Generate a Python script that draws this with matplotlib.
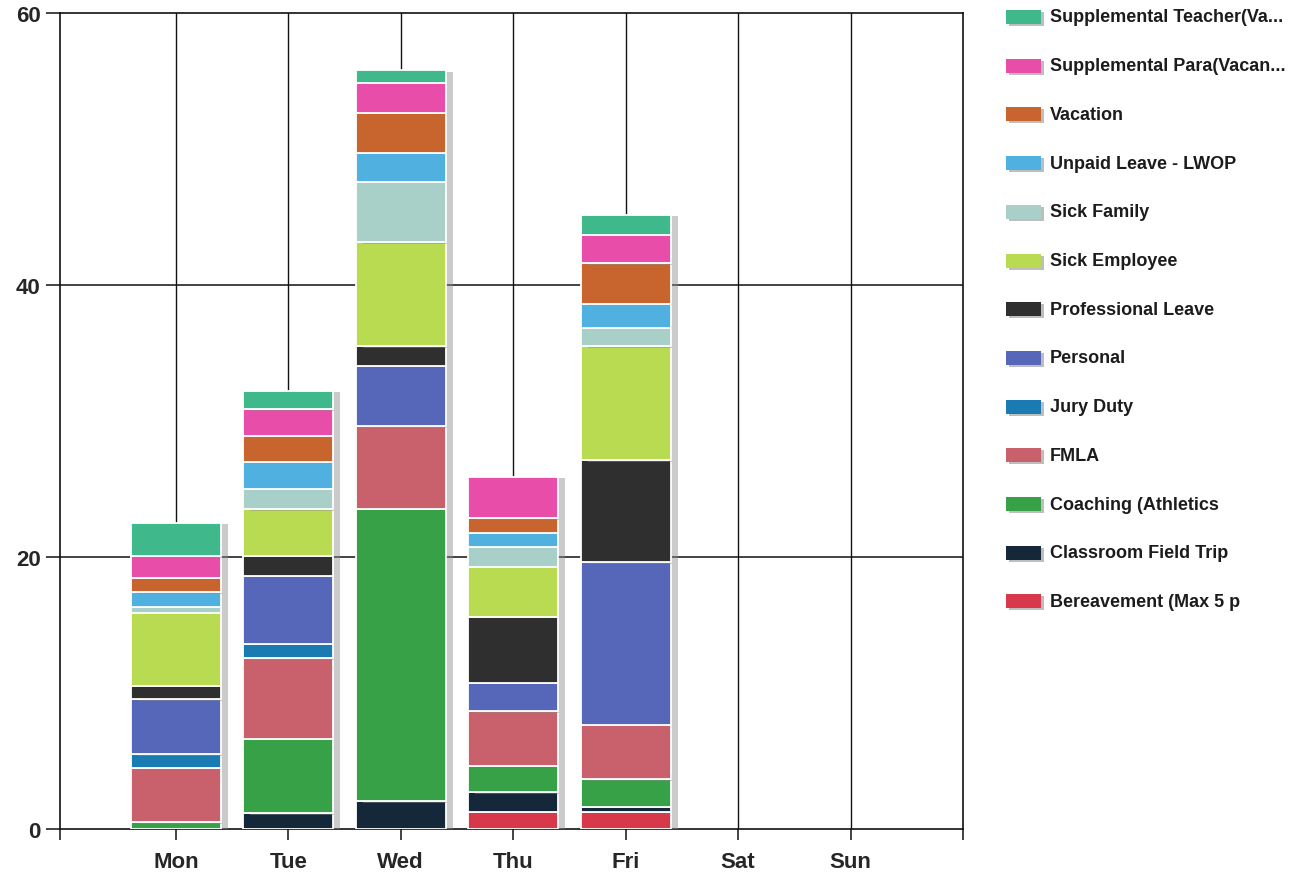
import matplotlib

matplotlib.use("Agg")
import matplotlib.pyplot as plt
import matplotlib.patheffects as pe
from matplotlib.patches import Rectangle

DAYS = ["Mon", "Tue", "Wed", "Thu", "Fri", "Sat", "Sun"]

# Absence counts per day, listed bottom-of-stack first
BEREAVEMENT = [0, 0, 0, 1.25, 1.25, 0, 0]
CLASSROOM_FIELD_TRIP = [0, 1.15, 2.05, 1.45, 0.4, 0, 0]
COACHING = [0.5, 5.5, 21.5, 1.95, 2.0, 0, 0]
FMLA = [4.0, 5.9, 6.05, 4.0, 4.0, 0, 0]
JURY_DUTY = [1.0, 1.05, 0, 0, 0, 0, 0]
PERSONAL = [4.05, 5.0, 4.45, 2.1, 11.95, 0, 0]
PROFESSIONAL_LEAVE = [1.0, 1.5, 1.45, 4.85, 7.5, 0, 0]
SICK_EMPLOYEE = [5.35, 3.4, 7.65, 3.7, 8.4, 0, 0]
SICK_FAMILY = [0.45, 1.5, 4.45, 1.45, 1.35, 0, 0]
UNPAID_LEAVE = [1.05, 2.0, 2.1, 1.05, 1.75, 0, 0]
VACATION = [1.05, 1.9, 2.95, 1.05, 3.0, 0, 0]
SUPPLEMENTAL_PARA = [1.6, 1.95, 2.2, 3.05, 2.1, 0, 0]
SUPPLEMENTAL_TEACHER = [2.45, 1.35, 0.95, 0, 1.45, 0, 0]

SERIES = [
    ("Bereavement (Max 5 p", BEREAVEMENT, "#d8394a"),
    ("Classroom Field Trip", CLASSROOM_FIELD_TRIP, "#15283a"),
    ("Coaching (Athletics", COACHING, "#36a147"),
    ("FMLA", FMLA, "#c9616d"),
    ("Jury Duty", JURY_DUTY, "#1a7bb2"),
    ("Personal", PERSONAL, "#5666b9"),
    ("Professional Leave", PROFESSIONAL_LEAVE, "#2f2f2f"),
    ("Sick Employee", SICK_EMPLOYEE, "#b9db52"),
    ("Sick Family", SICK_FAMILY, "#a9cfc9"),
    ("Unpaid Leave - LWOP", UNPAID_LEAVE, "#50b1e0"),
    ("Vacation", VACATION, "#c8652f"),
    ("Supplemental Para(Vacan...", SUPPLEMENTAL_PARA, "#e84ea9"),
    ("Supplemental Teacher(Va...", SUPPLEMENTAL_TEACHER, "#3fb98b"),
]

TEXT = "#1c1c1c"
FONT = "Liberation Sans"


def main():
    fig = plt.figure(figsize=(12.98, 8.78), dpi=100)
    W, H = 1298, 878
    ax = fig.add_axes([60 / W, 1 - 830 / H, (963 - 60) / W, (830 - 14) / H])

    x = list(range(len(DAYS)))
    shadow = [pe.SimplePatchShadow(offset=(5, -1), shadow_rgbFace="#8c8c8c", alpha=0.45), pe.Normal()]
    bottom = [0.0] * len(DAYS)
    for label, values, color in SERIES:
        # empty days get no segment at all
        keep = [i for i, v in enumerate(values) if v > 0]
        bars = ax.bar([x[i] for i in keep], [values[i] for i in keep], width=0.8,
                      bottom=[bottom[i] for i in keep], color=color,
                      edgecolor="white", linewidth=1.3, zorder=3)
        for b in bars:
            b.set_path_effects(shadow)
        bottom = [b + v for b, v in zip(bottom, values)]

    ax.set_xlim(-1.03, 7.0)
    ax.set_ylim(0, 60)

    # day gridlines and value gridlines sit behind the stacks
    for xi in x:
        ax.axvline(xi, color="#111111", linewidth=1.0, zorder=1)
    for yv in (20, 40):
        ax.axhline(yv, color="#111111", linewidth=1.1, zorder=1)

    ax.set_xticks([-1.03] + x + [7.0])
    ax.set_xticklabels([""] + DAYS + [""])
    ax.set_yticks([0, 20, 40, 60])
    ax.tick_params(axis="x", direction="out", length=8, width=1.1, pad=8, color="#111111")
    ax.tick_params(axis="y", direction="out", length=10, width=1.1, pad=4, color="#111111")
    for lbl in ax.get_xticklabels() + ax.get_yticklabels():
        lbl.set_fontfamily(FONT)
        lbl.set_fontweight("bold")
        lbl.set_fontsize(16)
        lbl.set_color("#262626")
    for spine in ax.spines.values():
        spine.set_color("#111111")
        spine.set_linewidth(1.2)

    # legend column, top entry first
    y0, step = 18, 48.7
    for i, (label, values, color) in enumerate(reversed(SERIES)):
        yc = y0 + i * step
        fig.patches.append(Rectangle((1009 / W, 1 - (yc + 9) / H), 35 / W, 14 / H,
                                     transform=fig.transFigure, facecolor="#8a8a8a",
                                     alpha=0.55, edgecolor="none"))
        fig.patches.append(Rectangle((1006 / W, 1 - (yc + 7) / H), 35 / W, 14 / H,
                                     transform=fig.transFigure, facecolor=color,
                                     edgecolor="none"))
        fig.text(1050 / W, 1 - yc / H, label, fontsize=13, fontweight="bold",
                 family=FONT, color=TEXT, va="center", ha="left")

    fig.savefig("out.png", dpi=100, facecolor="white")
    plt.close(fig)


if __name__ == "__main__":
    main()
